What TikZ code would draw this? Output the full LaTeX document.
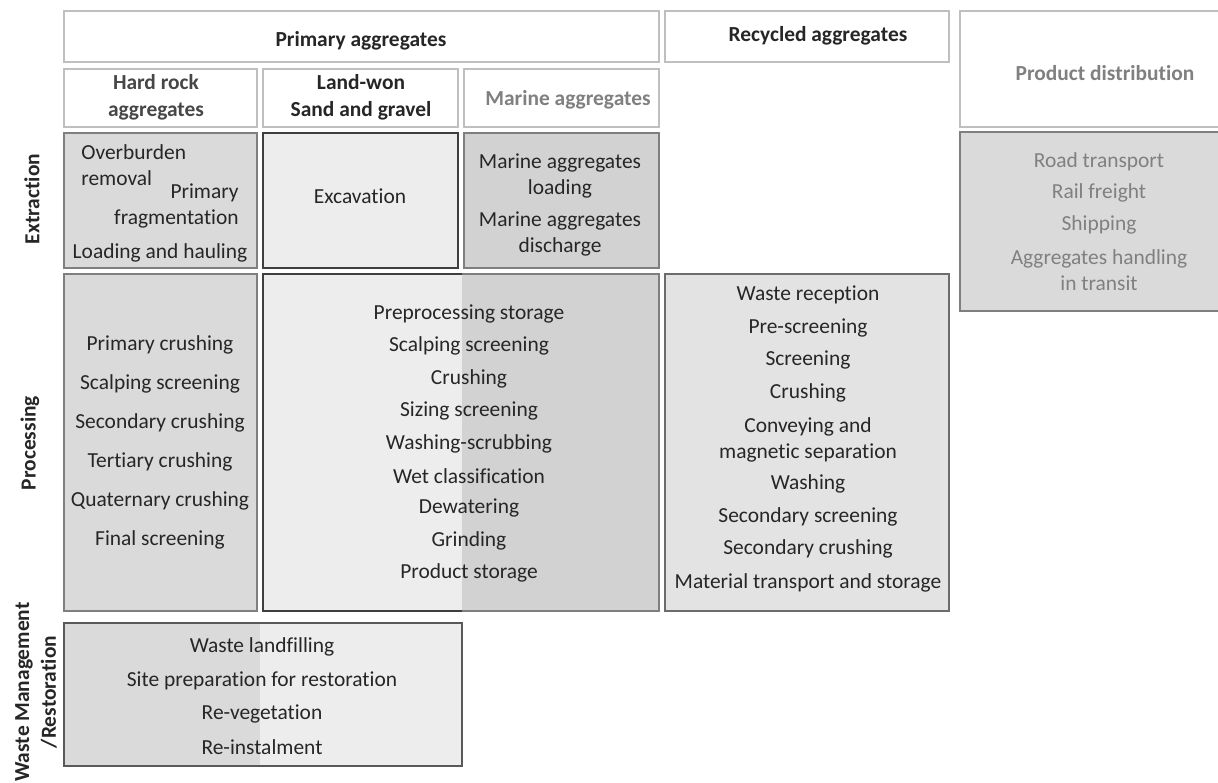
\documentclass[tikz,border=0pt]{standalone}
\usepackage{fontspec}
\setmainfont{Carlito}[Ligatures=NoCommon]

\definecolor{hdrline}{HTML}{BFBFBF}
\definecolor{ltfill}{HTML}{EDEDED}
\definecolor{midfill}{HTML}{DADADA}
\definecolor{dkfill}{HTML}{D2D2D2}
\definecolor{recfill}{HTML}{E3E3E3}
\definecolor{gbord}{HTML}{7F7F7F}
\definecolor{dbord}{HTML}{3F3F3F}
\definecolor{wbord}{HTML}{595959}
\definecolor{txt}{HTML}{262626}
\definecolor{gtxt}{HTML}{808080}

\tikzset{
  head/.style={draw=hdrline, line width=0.6pt, fill=white},
  cell/.style={line width=1.1pt},
  item/.style={font=\fontsize{12.2}{14.6}\selectfont, text=txt, align=center, inner sep=0pt},
  title/.style={item, font=\fontsize{12.2}{15.2}\selectfont\bfseries},
  side/.style={title, rotate=90},
}

\begin{document}
\begin{tikzpicture}[x=0.02cm, y=-0.02cm]
\useasboundingbox (0,0) rectangle (1218,783);

% column heads
\draw[head] (64,11) rectangle (659,62);
\node[title] (primary) at (361,41) {Primary aggregates};
\draw[head] (665,11) rectangle (949,62);
\node[title] (recycled) at (818,36) {Recycled aggregates};
\draw[head] (960,11) rectangle (1230,127);
\node[title, text=gtxt] (distrib) at (1105,73) {Product distribution};
\draw[head] (64,69) rectangle (257,127);
\node[title, text=txt!85] (hardrock) at (156,97) {Hard rock\\aggregates};
\draw[head] (263,69) rectangle (458,127);
\node[title] (landwon) at (361,97) {Land-won\\Sand and gravel};
\draw[head] (464,69) rectangle (659,127);
\node[title, text=gtxt] (marine) at (568,100) {Marine aggregates};

% row labels
\node[side] (extract) at (32,199) {Extraction};
\node[side] (process) at (30,443) {Processing};
\node[side] (waste) at (36,692) {Waste Management\\/Restoration};

%%%%%%%%%%%%%%%%%%%%%%%%%%%%%%%%%%%%%%%%

% extraction
\draw[cell, draw=gbord, fill=midfill] (64,133) rectangle (257,268);
\node[item, align=left, anchor=west] (overburden) at (81,165) {Overburden\\removal};
\node[item, align=right, anchor=east] (fragment) at (239,206) {Primary\\fragmentation};
\node[item] (hauling) at (160,253) {Loading and hauling};
\draw[cell, draw=dbord, fill=ltfill] (263,133) rectangle (458,268);
\node[item] (excavation) at (360,196) {Excavation};
\draw[cell, draw=gbord, fill=dkfill] (464,133) rectangle (659,268);
\node[item] (mloading) at (560,176) {Marine aggregates\\loading};
\node[item] (mdischarge) at (560,234) {Marine aggregates\\discharge};

% distribution
\draw[cell, draw=gbord, fill=midfill] (960,132) rectangle (1230,311);
\foreach \t/\y [count=\i] in {Road transport/162, Rail freight/193, Shipping/225,
    {Aggregates handling\\in transit}/270}
  \node[item, text=gtxt] (dist\i) at (1099,\y) {\t};

%%%%%%%%%%%%%%%%%%%%%%%%%%%%%%%%%%%%%%%%

% processing
\draw[cell, draw=gbord, fill=midfill] (64,274) rectangle (257,611);
\foreach \t [count=\i] in {Primary crushing, Scalping screening, Secondary crushing,
    Tertiary crushing, Quaternary crushing, Final screening}
  \node[item] (hr\i) at (160,306+39*\i) {\t};

\fill[ltfill] (263,274) rectangle (462,611);
\fill[dkfill] (462,274) rectangle (659,611);
\draw[cell, draw=gbord] (462,274) -| (659,611) -- (462,611);
\draw[cell, draw=dbord] (462,274) -- (263,274) |- (462,611);
\foreach \t [count=\i] in {Preprocessing storage, Scalping screening, Crushing,
    Sizing screening, Washing-scrubbing, Wet classification, Dewatering,
    Grinding, Product storage}
  \node[item] (sg\i) at (469,281.6+32.4*\i) {\t};

\draw[cell, draw=gbord!85!black, fill=recfill] (665,274) rectangle (949,611);
\foreach \t/\y [count=\i] in {Waste reception/295, Pre-screening/328, Screening/360,
    Crushing/393, {Conveying and\\magnetic separation}/440, Washing/484,
    Secondary screening/517, Secondary crushing/549,
    Material transport and storage/583}
  \node[item] (rc\i) at (808,\y) {\t};

%%%%%%%%%%%%%%%%%%%%%%%%%%%%%%%%%%%%%%%%

% waste management
\fill[midfill] (64,623) rectangle (260,766);
\fill[ltfill] (260,623) rectangle (462,766);
\draw[cell, draw=wbord] (64,623) rectangle (462,766);
\foreach \t [count=\i] in {Waste landfilling, Site preparation for restoration,
    Re-vegetation, Re-instalment}
  \node[item] (wm\i) at (262,614+33.3*\i) {\t};
\end{tikzpicture}
\end{document}
